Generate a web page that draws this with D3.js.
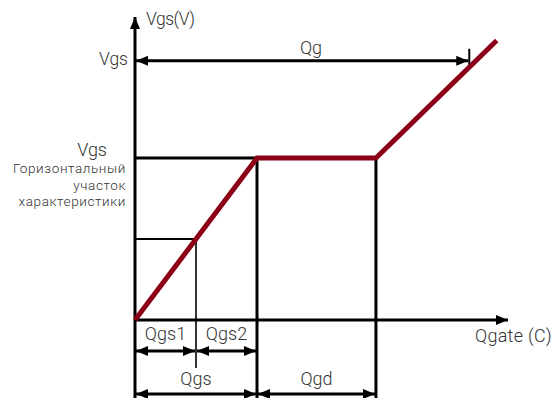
<!DOCTYPE html>
<html>
<head>
<meta charset="utf-8">
<script src="https://cdn.jsdelivr.net/npm/d3@7"></script>
<style>
  body { margin: 0; background: #fff; }
  text { font-family: Roboto, "Noto Sans", sans-serif; font-weight: 300; fill: #333; }
</style>
</head>
<body>
<script>
// gate charge curve (Q in arbitrary units, V in arbitrary units)
var curveQ = [0, 2, 3.95, 5.93];
var curveV = [0, 4, 4, 6.9];

// charge markers
var qgs1 = 1, qgs = 2, qgdEnd = 3.95, qg = 5.48;
// voltage markers
var vth = 2, vplateau = 4, vgs = 6.4;

var plateauLines = ["Горизонтальный", "участок", "характеристики"];

var width = 554, height = 398;

var x = d3.scaleLinear().domain([0, 6]).range([135, 501]);
var y = d3.scaleLinear().domain([0, 4]).range([320, 158]);

var svg = d3.select("body").append("svg")
    .attr("width", width)
    .attr("height", height);

var defs = svg.append("defs");
function marker(id, path) {
  defs.append("marker")
      .attr("id", id)
      .attr("viewBox", "0 0 12 10")
      .attr("refX", 12).attr("refY", 5)
      .attr("markerWidth", 12).attr("markerHeight", 10)
      .attr("markerUnits", "userSpaceOnUse")
      .attr("orient", "auto-start-reverse")
    .append("path")
      .attr("d", path)
      .attr("fill", "#000");
}
marker("arr", "M0,0 L12,5 L0,10 Z");

// thin guide lines (threshold)
svg.append("line")
    .attr("x1", x(0)).attr("x2", x(qgs1))
    .attr("y1", y(vth)).attr("y2", y(vth))
    .attr("stroke", "#000").attr("stroke-width", 1.8);
svg.append("line")
    .attr("x1", x(qgs1)).attr("x2", x(qgs1))
    .attr("y1", y(vth)).attr("y2", 368)
    .attr("stroke", "#000").attr("stroke-width", 1.6);

// plateau guide
svg.append("line")
    .attr("x1", x(0)).attr("x2", x(qgs))
    .attr("y1", y(vplateau)).attr("y2", y(vplateau))
    .attr("stroke", "#000").attr("stroke-width", 3);
[qgs, qgdEnd].forEach(function(q) {
  svg.append("line")
      .attr("x1", x(q)).attr("x2", x(q))
      .attr("y1", y(vplateau)).attr("y2", height)
      .attr("stroke", "#000").attr("stroke-width", 3);
});

// axes
svg.append("line")
    .attr("x1", x(0)).attr("x2", x(0))
    .attr("y1", height).attr("y2", 17)
    .attr("stroke", "#000").attr("stroke-width", 3)
    .attr("marker-end", "url(#arr)");
svg.append("line")
    .attr("x1", x(0)).attr("x2", 508)
    .attr("y1", y(0)).attr("y2", y(0))
    .attr("stroke", "#000").attr("stroke-width", 3)
    .attr("marker-end", "url(#arr)");

// double arrows
function dim(q0, q1, yy) {
  svg.append("line")
      .attr("x1", x(q0) + 1).attr("x2", x(q1) - 1)
      .attr("y1", yy).attr("y2", yy)
      .attr("stroke", "#000").attr("stroke-width", 3)
      .attr("marker-start", "url(#arr)")
      .attr("marker-end", "url(#arr)");
}
dim(0, qg, y(vgs));
dim(0, qgs1, 351);
dim(qgs1, qgs, 351);
dim(0, qgs, 394);
dim(qgs, qgdEnd, 394);

// Qg end tick
svg.append("line")
    .attr("x1", x(qg)).attr("x2", x(qg))
    .attr("y1", y(vgs) - 12).attr("y2", y(vgs) + 6)
    .attr("stroke", "#000").attr("stroke-width", 2);

// gate charge curve
var pts = curveQ.map(function(q, i) { return [x(q), y(curveV[i])]; });
svg.append("path")
    .attr("d", d3.line()(pts))
    .attr("fill", "none")
    .attr("stroke", "#8b0016")
    .attr("stroke-width", 5)
    .attr("stroke-linejoin", "miter");

// labels
function label(t, xx, yy, anchor, size) {
  return svg.append("text")
      .attr("x", xx).attr("y", yy)
      .attr("text-anchor", anchor)
      .attr("font-size", size)
      .text(t);
}
label("Vgs(V)", 146, 25, "start", 17.5).attr("letter-spacing", -0.5);
label("Vgs", 128, 65, "end", 17.5);
label("Qg", 311, 54, "middle", 18);
label("Vgs", 107, 156, "end", 18);
plateauLines.forEach(function(t, i) {
  label(t, 126, 173 + i * 16.5, "end", 13.5).attr("letter-spacing", 0.6);
});
label("Qgs1", x(qgs1 / 2), 340, "middle", 18);
label("Qgs2", (x(qgs1) + x(qgs)) / 2, 340, "middle", 18);
label("Qgs", x(qgs / 2), 385, "middle", 18);
label("Qgd", (x(qgs) + x(qgdEnd)) / 2, 385, "middle", 18);
label("Qgate (C)", 552, 342, "end", 18).attr("letter-spacing", 0.3);
</script>
</body>
</html>
